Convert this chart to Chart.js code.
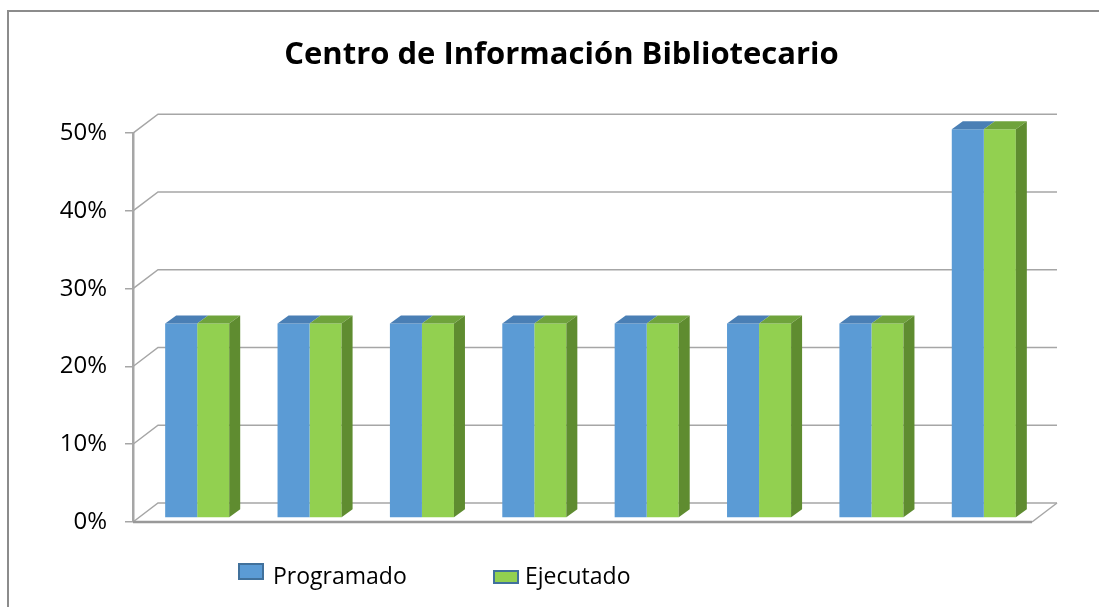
<!DOCTYPE html>
<html>
<head>
<meta charset="utf-8">
<script src="https://cdn.jsdelivr.net/npm/chart.js@4.4.0/dist/chart.umd.min.js"></script>
<style>
  html, body { margin: 0; padding: 0; background: #fff; overflow: hidden; }
  #wrap { width: 1099px; height: 607px; position: relative; }
</style>
</head>
<body>
<div id="wrap"><canvas id="grafico"></canvas></div>
<script>
// datos del grafico
const categorias = ["1", "2", "3", "4", "5", "6", "7", "8"];
const programado = [25, 25, 25, 25, 25, 25, 25, 50];
const ejecutado = [25, 25, 25, 25, 25, 25, 25, 50];
const ticksY = [0, 10, 20, 30, 40, 50];

const fondo = 25, alto = 19;     // profundidad de la pared del fondo
const barDx = 11, barDy = 8;     // profundidad de las barras
const gris = "#a6a6a6";

// marco, paredes y piso en 3D
const paredes = {
  id: "paredes",
  beforeDraw(chart) {
    const c = chart.ctx;
    c.save();
    c.fillStyle = "#8c8c8c";
    c.fillRect(7, 10, 2, 597);
    c.fillRect(7, 10, 1092, 2);
    c.restore();
  },
  beforeDatasetsDraw(chart) {
    const c = chart.ctx, y = chart.scales.y, a = chart.chartArea;
    c.save();
    c.strokeStyle = gris;
    c.lineWidth = 1.5;
    ticksY.forEach(v => {
      const yf = y.getPixelForValue(v);
      c.beginPath();
      c.moveTo(a.left, yf);
      c.lineTo(a.left + fondo, yf - alto);
      c.lineTo(a.right + fondo, yf - alto);
      c.stroke();
    });
    // piso
    const y0 = y.getPixelForValue(0);
    c.beginPath();
    c.moveTo(a.right, y0);
    c.lineTo(a.right + fondo, y0 - alto);
    c.stroke();
    c.strokeStyle = "#999";
    c.lineWidth = 2.5;
    c.beginPath();
    c.moveTo(a.left, y0);
    c.lineTo(a.right, y0);
    c.stroke();
    c.restore();
    // las barras van en medio de la profundidad
    c.save();
    c.translate(8, -4);
  },
  afterDatasetsDraw(chart) {
    const c = chart.ctx;
    const caras = [["#4a7fb5", null], ["#6fa33c", "#5f8c30"]];
    chart.data.datasets.forEach((ds, i) => {
      chart.getDatasetMeta(i).data.forEach(bar => {
        const l = bar.x - bar.width / 2, r = bar.x + bar.width / 2;
        c.fillStyle = caras[i][0];
        c.beginPath();
        c.moveTo(l, bar.y);
        c.lineTo(l + barDx, bar.y - barDy);
        c.lineTo(r + barDx, bar.y - barDy);
        c.lineTo(r, bar.y);
        c.closePath();
        c.fill();
        if (caras[i][1]) {
          c.fillStyle = caras[i][1];
          c.beginPath();
          c.moveTo(r, bar.y);
          c.lineTo(r + barDx, bar.y - barDy);
          c.lineTo(r + barDx, bar.base - barDy);
          c.lineTo(r, bar.base);
          c.closePath();
          c.fill();
        }
      });
    });
    c.restore();
  },
  afterDraw(chart) {
    // leyenda estilo Excel
    const c = chart.ctx;
    const items = [
      { x: 239, y: 564, h: 15, fill: "#5b9bd5" },
      { x: 494, y: 571, h: 12, fill: "#92d050" }
    ];
    c.save();
    c.font = "23px 'Open Sans'";
    c.textBaseline = "alphabetic";
    chart.data.datasets.forEach((ds, i) => {
      const it = items[i];
      c.fillStyle = it.fill;
      c.fillRect(it.x, it.y, 24, it.h);
      c.strokeStyle = "#41719c";
      c.lineWidth = 2;
      c.strokeRect(it.x, it.y, 24, it.h);
      c.fillStyle = "#000";
      c.fillText(ds.label, it.x + (i === 0 ? 34 : 31), 584);
    });
    c.restore();
  }
};

new Chart(document.getElementById("grafico"), {
  type: "bar",
  data: {
    labels: categorias,
    datasets: [
      { label: "Programado", data: programado, backgroundColor: "#5b9bd5", clip: false },
      { label: "Ejecutado", data: ejecutado, backgroundColor: "#92d050", clip: false }
    ]
  },
  options: {
    responsive: true,
    maintainAspectRatio: false,
    animation: false,
    events: [],
    barPercentage: 1,
    categoryPercentage: 0.57,
    layout: { padding: { left: 24, top: 0, right: 0, bottom: 85 } },
    plugins: {
      legend: { display: false },
      tooltip: { enabled: false },
      title: {
        display: true,
        text: "Centro de Información Bibliotecario",
        color: "#000",
        font: { family: "'Open Sans'", size: 31, weight: "bold" },
        padding: { top: 37, bottom: 59 }
      }
    },
    scales: {
      x: { display: false },
      y: {
        min: 0,
        max: 50,
        afterFit(s) { s.width = 109; },
        ticks: {
          stepSize: 10,
          padding: 18,
          color: "#000",
          font: { family: "'Open Sans'", size: 24 },
          callback: v => v + "%"
        },
        grid: { drawOnChartArea: false, tickLength: 8, color: gris, lineWidth: 1.5 },
        border: { color: gris, width: 2.5 }
      },
      derecha: {
        position: "right",
        afterFit(s) { s.width = 67; },
        ticks: { display: false },
        grid: { display: false },
        border: { display: false }
      }
    }
  },
  plugins: [paredes]
});
</script>
</body>
</html>
